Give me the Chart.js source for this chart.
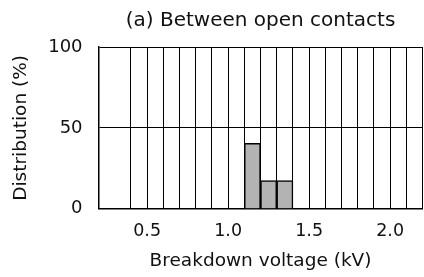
<!DOCTYPE html>
<html>
<head>
<meta charset="utf-8">
<script src="https://cdn.jsdelivr.net/npm/chart.js@4/dist/chart.umd.min.js"></script>
<style>
  html, body { margin: 0; padding: 0; background: #fff; overflow: hidden; }
  canvas { display: block; }
</style>
</head>
<body>
<canvas id="chartBreakdown" width="435" height="277"></canvas>
<script>
// bin centres (kV), each bin 0.1 kV wide
const voltageBins = [1.15, 1.25, 1.35];
// share of breakdowns per bin (%)
const distribution = [40.5, 17.5, 17.5];
const xTickLabels = ['0.5', '1.0', '1.5', '2.0'];
const yTickLabels = ['0', '50', '100'];

const FONT = '"DejaVu Sans", sans-serif';

function _gridColor(c) {
  // no grid line at 0.3 kV in the original
  if (c && c.tick && Math.abs(c.tick.value - 0.3) < 1e-6) return 'rgba(0,0,0,0)';
  return '#000';
}

const ctx = document.getElementById('chartBreakdown');
new Chart(ctx.getContext('2d'), {
  type: 'bar',
  data: {
    datasets: [{
      label: 'Distribution',
      data: voltageBins.map((x, i) => ({ x, y: distribution[i] })),
      backgroundColor: '#b3b3b3',
      borderColor: '#000',
      borderWidth: 1.5,
      barPercentage: 1,
      categoryPercentage: 1
    }]
  },
  options: {
    responsive: false,
    animation: false,
    layout: { padding: { left: 10, right: 0, top: 0, bottom: 5 } },
    plugins: {
      legend: { display: false },
      tooltip: { enabled: false },
      title: {
        display: true,
        fullSize: false,
        text: '(a) Between open contacts',
        color: '#111',
        font: { family: FONT, size: 20, weight: 'normal' },
        padding: { top: 9, bottom: 14 }
      }
    },
    scales: {
      x: {
        type: 'linear',
        offset: false,
        min: 0.2,
        max: 2.2,
        ticks: {
          stepSize: 0.1,
          autoSkip: false,
          maxRotation: 0,
          padding: 12.5,
          color: '#111',
          font: { family: FONT, size: 17.5 },
          callback: v => {
            const s = (Math.round(v * 10) / 10).toFixed(1);
            return xTickLabels.includes(s) ? s : '';
          }
        },
        grid: { offset: false, drawTicks: false, lineWidth: 1, color: _gridColor },
        border: { color: '#000', width: 1.5 },
        title: {
          display: true,
          text: 'Breakdown voltage (kV)',
          color: '#111',
          font: { family: FONT, size: 18.5 },
          padding: { top: -5, bottom: 0 }
        }
      },
      y: {
        min: 0,
        max: 100,
        ticks: {
          stepSize: 50,
          padding: 16,
          color: '#111',
          font: { family: FONT, size: 18 },
          callback: v => yTickLabels.includes(String(v)) ? String(v) : ''
        },
        grid: { drawTicks: false, color: '#000', lineWidth: 1 },
        border: { color: '#000', width: 1.5 },
        title: {
          display: true,
          text: 'Distribution (%)',
          color: '#111',
          font: { family: FONT, size: 18.5 },
          padding: { top: 0, bottom: 0 }
        }
      }
    }
  }
});
</script>
</body>
</html>
